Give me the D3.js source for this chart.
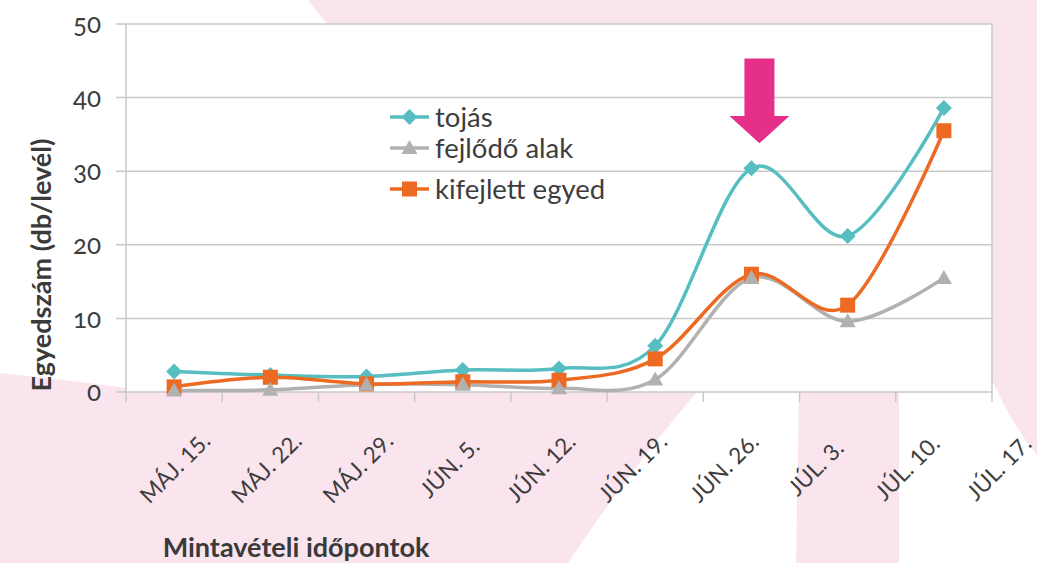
<!DOCTYPE html>
<html lang="hu">
<head>
<meta charset="UTF-8">
<title>Egyedszám</title>
<script src="https://d3js.org/d3.v7.min.js"></script>
<style>
  body { margin: 0; background: #fff; }
  svg { display: block; font-family: Lato, "Open Sans", sans-serif; }
</style>
</head>
<body>
<div id="chart"></div>
<script>
// sampling dates (one point per date) and the axis labels (one extra at the end)
var sampleDates = ["MÁJ. 15.", "MÁJ. 22.", "MÁJ. 29.", "JÚN. 5.", "JÚN. 12.", "JÚN. 19.", "JÚN. 26.", "JÚL. 3.", "JÚL. 10."];
var axisLabels = ["MÁJ. 15.", "MÁJ. 22.", "MÁJ. 29.", "JÚN. 5.", "JÚN. 12.", "JÚN. 19.", "JÚN. 26.", "JÚL. 3.", "JÚL. 10.", "JÚL. 17."];

// counts per leaf
var tojas     = [2.8, 2.3, 2.1, 3.0, 3.2, 6.3, 30.4, 21.2, 38.6];
var fejlodo   = [0.2, 0.3, 1.0, 1.0, 0.5, 1.7, 15.5, 9.6, 15.5];
var kifejlett = [0.7, 2.0, 1.1, 1.4, 1.6, 4.5, 16.0, 11.8, 35.5];

var yTicks = [0, 10, 20, 30, 40, 50];

var W = 1037, H = 563;
var margin = {top: 24, right: 45, bottom: 171, left: 126};

var svg = d3.select("#chart").append("svg")
  .attr("width", W)
  .attr("height", H);

// pink decoration behind everything
var pink = "#fae4ee";
svg.append("path")
  .attr("d", "M308,0 L1037,0 L1037,455 Q1012,425 992,380 L992,24 L327,24 Z")
  .attr("fill", pink);
svg.append("path")
  .attr("d", "M0,373 Q60,379 126,388 L697,392 Q628,472 568,563 L0,563 Z")
  .attr("fill", pink);
svg.append("path")
  .attr("d", "M799,392 L899,392 L899,563 L796,563 Z")
  .attr("fill", pink);

var x = d3.scaleBand()
  .domain(sampleDates)
  .range([margin.left, W - margin.right]);

var y = d3.scaleLinear()
  .domain([0, 50])
  .range([H - margin.bottom, margin.top]);

var cx = function(d) { return x(d) + x.bandwidth() / 2; };

// plot area
svg.append("rect")
  .attr("x", margin.left)
  .attr("y", margin.top)
  .attr("width", x.range()[1] - margin.left)
  .attr("height", y(0) - margin.top)
  .attr("fill", "#fff");

var gridColor = "#c9c9c9";

// horizontal gridlines + y ticks
svg.append("g").selectAll("line")
  .data(yTicks)
  .enter().append("line")
    .attr("x1", margin.left - 10)
    .attr("x2", x.range()[1])
    .attr("y1", function(d) { return y(d); })
    .attr("y2", function(d) { return y(d); })
    .attr("stroke", gridColor)
    .attr("stroke-width", 1.5);

// left and right borders
svg.append("line")
  .attr("x1", margin.left).attr("x2", margin.left)
  .attr("y1", margin.top).attr("y2", y(0))
  .attr("stroke", gridColor).attr("stroke-width", 1.5);
svg.append("line")
  .attr("x1", x.range()[1]).attr("x2", x.range()[1])
  .attr("y1", margin.top).attr("y2", y(0))
  .attr("stroke", gridColor).attr("stroke-width", 1.5);

// x tick marks on band boundaries
var bounds = sampleDates.map(function(d) { return x(d); }).concat([x.range()[1]]);
svg.append("g").selectAll("line")
  .data(bounds)
  .enter().append("line")
    .attr("x1", function(d) { return d; })
    .attr("x2", function(d) { return d; })
    .attr("y1", y(0))
    .attr("y2", y(0) + 10)
    .attr("stroke", gridColor)
    .attr("stroke-width", 1.5);

// y tick labels
svg.append("g").selectAll("text")
  .data(yTicks)
  .enter().append("text")
    .attr("x", 101)
    .attr("y", function(d) { return y(d); })
    .attr("dy", "0.35em")
    .attr("text-anchor", "end")
    .style("font-size", "26px")
    .style("font-variant-numeric", "oldstyle-nums")
    .attr("fill", "#3d3d3d")
    .text(function(d) { return d; });

// x tick labels, rotated
var lx = d3.scalePoint().domain(axisLabels).range([175, 999]);
svg.append("g").selectAll("text")
  .data(axisLabels)
  .enter().append("text")
    .attr("transform", function(d) { return "translate(" + lx(d) + ",468) rotate(-45)"; })
    .attr("text-anchor", "middle")
    .attr("dy", "0.35em")
    .style("font-size", "22.5px")
    .attr("fill", "#3d3d3d")
    .text(function(d) { return d; });

// axis titles
svg.append("text")
  .attr("transform", "translate(51,265) rotate(-90)")
  .attr("text-anchor", "middle")
  .style("font-size", "27px")
  .style("font-weight", "bold")
  .attr("fill", "#3a3a3a")
  .text("Egyedszám (db/levél)");

svg.append("text")
  .attr("x", 296)
  .attr("y", 557)
  .attr("text-anchor", "middle")
  .style("font-size", "27px")
  .style("font-weight", "bold")
  .attr("fill", "#3a3a3a")
  .text("Mintavételi időpontok");

// series
var series = [
  {name: "tojás", values: tojas, color: "#56bec0", symbol: "diamond"},
  {name: "fejlődő alak", values: fejlodo, color: "#b1b1b1", symbol: "triangle"},
  {name: "kifejlett egyed", values: kifejlett, color: "#ec6a22", symbol: "square"}
];

var line = d3.line()
  .x(function(d, i) { return cx(sampleDates[i]); })
  .y(function(d) { return y(d); })
  .curve(d3.curveCatmullRom.alpha(0));

series.forEach(function(s) {
  svg.append("path")
    .datum(s.values)
    .attr("d", line)
    .attr("fill", "none")
    .attr("stroke", s.color)
    .attr("stroke-width", 3.5);
});

// marker shapes, centred on 0,0
function marker(sym) {
  if (sym === "diamond") return "M0,-8 L8,0 L0,8 L-8,0 Z";
  if (sym === "triangle") return "M0,-8 L8,6 L-8,6 Z";
  return "M-7.5,-7.5 L7.5,-7.5 L7.5,7.5 L-7.5,7.5 Z";
}

[series[0], series[2], series[1]].forEach(function(s) {
  svg.append("g").selectAll("path")
    .data(s.values)
    .enter().append("path")
      .attr("transform", function(d, i) { return "translate(" + cx(sampleDates[i]) + "," + y(d) + ")"; })
      .attr("d", marker(s.symbol))
      .attr("fill", s.color);
});

// legend
var legendRows = [117, 148, 189];
series.forEach(function(s, i) {
  var g = svg.append("g").attr("transform", "translate(390," + legendRows[i] + ")");
  g.append("line")
    .attr("x1", 0).attr("x2", 39)
    .attr("stroke", s.color)
    .attr("stroke-width", 3.5);
  g.append("path")
    .attr("transform", "translate(19.5,0)")
    .attr("d", marker(s.symbol))
    .attr("fill", s.color);
  g.append("text")
    .attr("x", 45)
    .attr("dy", "0.36em")
    .style("font-size", "27.5px")
    .attr("fill", "#3d3d3d")
    .text(s.name);
});

// arrow pointing at the peak date
var ax = cx("JÚN. 26.") + 8;
var arrow = d3.path();
arrow.moveTo(ax - 15, y(45.3));
arrow.lineTo(ax + 15, y(45.3));
arrow.lineTo(ax + 15, y(37.5));
arrow.lineTo(ax + 30, y(37.5));
arrow.lineTo(ax, y(33.8));
arrow.lineTo(ax - 30, y(37.5));
arrow.lineTo(ax - 15, y(37.5));
arrow.closePath();
svg.append("path")
  .attr("d", arrow.toString())
  .attr("fill", "#e52f89");
</script>
</body>
</html>
